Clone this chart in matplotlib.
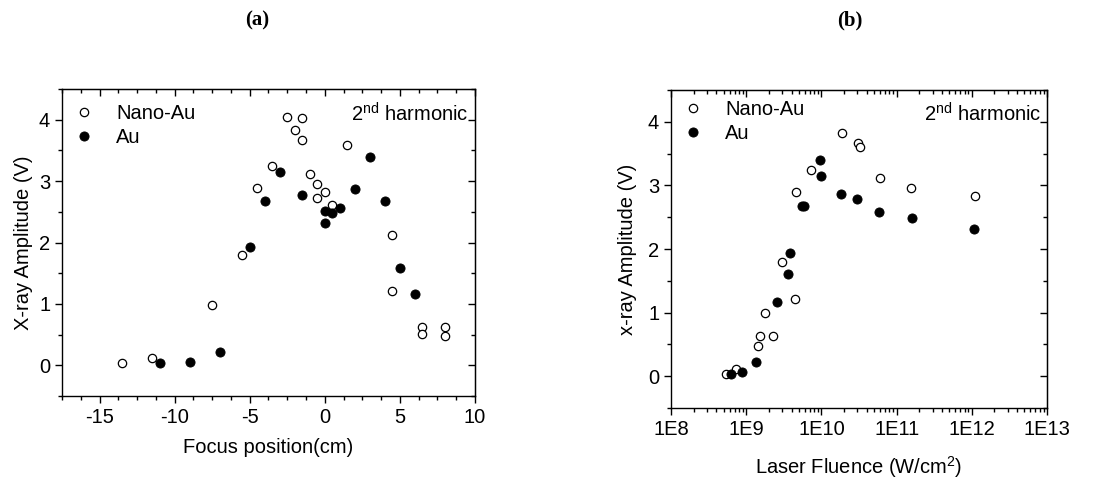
import matplotlib
matplotlib.use("Agg")
import matplotlib.pyplot as plt
from matplotlib.ticker import MultipleLocator, LogLocator, NullFormatter, FixedLocator

plt.rcParams["font.family"] = ["Liberation Sans", "DejaVu Sans"]
plt.rcParams["mathtext.fontset"] = "custom"
plt.rcParams["mathtext.rm"] = "Liberation Sans"
plt.rcParams["mathtext.it"] = "Liberation Sans"
plt.rcParams["axes.unicode_minus"] = False

# (a) focus position scan
focus_nano = [-13.5, -11.5, -7.5, -5.5, -4.5, -3.5, -2.5, -2.0, -1.5, -1.5, -1.0,
              -0.5, -0.5, 0.0, 0.5, 1.5, 4.5, 4.5, 6.5, 6.5, 8.0, 8.0]
amp_focus_nano = [0.04, 0.12, 0.99, 1.80, 2.88, 3.24, 4.05, 3.83, 4.03, 3.67, 3.11,
                  2.95, 2.72, 2.82, 2.61, 3.59, 2.13, 1.21, 0.63, 0.51, 0.63, 0.48]
focus_au = [-11.0, -9.0, -7.0, -5.0, -4.0, -3.0, -1.5, 0.0, 0.0, 0.5, 1.0,
            2.0, 3.0, 4.0, 5.0, 6.0]
amp_focus_au = [0.03, 0.06, 0.21, 1.93, 2.67, 3.15, 2.78, 2.51, 2.31, 2.48, 2.57,
                2.87, 3.40, 2.68, 1.59, 1.16]

# (b) laser fluence scan
fluence_nano = [5.3e8, 7.2e8, 1.44e9, 1.51e9, 1.76e9, 2.27e9, 3.0e9, 4.45e9, 4.65e9,
                7.35e9, 1.86e10, 3.1e10, 3.3e10, 6.0e10, 1.56e11, 1.1e12]
amp_fluence_nano = [0.04, 0.12, 0.48, 0.63, 1.00, 0.63, 1.80, 1.21, 2.89,
                    3.24, 3.83, 3.67, 3.60, 3.12, 2.96, 2.83]
fluence_au = [6.2e8, 8.9e8, 1.36e9, 2.6e9, 3.6e9, 3.87e9, 5.5e9, 5.8e9,
              9.6e9, 9.8e9, 1.84e10, 3.0e10, 5.76e10, 1.59e11, 1.08e12]
amp_fluence_au = [0.03, 0.06, 0.22, 1.16, 1.60, 1.93, 2.68, 2.68,
                  3.40, 3.15, 2.87, 2.78, 2.58, 2.48, 2.32]

fluence_ticks = [1e8, 1e9, 1e10, 1e11, 1e12, 1e13]
fluence_labels = ["1E8", "1E9", "1E10", "1E11", "1E12", "1E13"]

FS = 14.5

fig = plt.figure(figsize=(10.99, 4.78), dpi=100)
ax_a = fig.add_axes([0.0564, 0.1715, 0.3758, 0.6423])
ax_b = fig.add_axes([0.6106, 0.1464, 0.3421, 0.6653])


def scatter_pair(ax, xo, yo, xf, yf, leg_top, harm_y):
    ax.plot(xo, yo, "o", ls="none", ms=6, mfc="white", mec="black", mew=0.9,
            label="Nano-Au")
    ax.plot(xf, yf, "o", ls="none", ms=6.6, mfc="black", mec="black", mew=0.6,
            label="Au")
    ax.legend(loc="upper left", bbox_to_anchor=(0.0, leg_top), frameon=False,
              fontsize=FS, handletextpad=1.0, borderaxespad=0.3,
              labelspacing=0.25, handlelength=1.2, borderpad=0.2)
    ax.text(0.985, harm_y, "2$^{\\mathrm{nd}}$ harmonic", transform=ax.transAxes,
            ha="right", va="center", fontsize=FS)
    ax.set_ylim(-0.5, 4.5)
    ax.yaxis.set_major_locator(MultipleLocator(1))
    ax.yaxis.set_minor_locator(MultipleLocator(0.5))
    ax.tick_params(which="both", direction="out", top=False, right=False,
                   labelsize=FS, width=1.0)
    ax.tick_params(which="major", length=5)
    ax.tick_params(which="minor", length=3)
    for sp in ax.spines.values():
        sp.set_linewidth(1.0)


scatter_pair(ax_a, focus_nano, amp_focus_nano, focus_au, amp_focus_au, 0.985, 0.918)
ax_a.set_xlim(-17.5, 10)
ax_a.xaxis.set_major_locator(MultipleLocator(5))
ax_a.xaxis.set_minor_locator(MultipleLocator(1.25))
ax_a.set_xlabel("Focus position(cm)", fontsize=FS, labelpad=8)
ax_a.set_ylabel("X-ray Amplitude (V)", fontsize=FS, labelpad=4)

scatter_pair(ax_b, fluence_nano, amp_fluence_nano, fluence_au, amp_fluence_au, 1.0, 0.925)
ax_b.set_xscale("log")
ax_b.set_xlim(1e8, 1e13)
ax_b.xaxis.set_major_locator(FixedLocator(fluence_ticks))
ax_b.set_xticklabels(fluence_labels)
ax_b.xaxis.set_minor_locator(LogLocator(base=10, subs=range(2, 10), numticks=20))
ax_b.xaxis.set_minor_formatter(NullFormatter())
ax_b.set_xlabel("Laser Fluence (W/cm$^{2}$)", fontsize=FS, labelpad=11)
ax_b.set_ylabel("x-ray Amplitude (V)", fontsize=FS, labelpad=8)

fig.text(0.234, 0.958, "(a)", fontsize=15, fontweight="bold",
         family="Liberation Serif", ha="center", va="center")
fig.text(0.773, 0.958, "(b)", fontsize=15, fontweight="bold",
         family="Liberation Serif", ha="center", va="center")

# inward ticks on top and right, as in the original
for ax in (ax_a, ax_b):
    top = ax.secondary_xaxis("top")
    right = ax.secondary_yaxis("right")
    if ax is ax_b:
        top.xaxis.set_major_locator(FixedLocator(fluence_ticks))
        top.xaxis.set_minor_locator(LogLocator(base=10, subs=range(2, 10), numticks=20))
    else:
        top.xaxis.set_major_locator(MultipleLocator(5))
        top.xaxis.set_minor_locator(MultipleLocator(1.25))
    right.yaxis.set_major_locator(MultipleLocator(1))
    right.yaxis.set_minor_locator(MultipleLocator(0.5))
    for sec in (top, right):
        sec.tick_params(which="both", direction="in", labeltop=False,
                        labelright=False, width=1.0)
        sec.tick_params(which="major", length=5)
        sec.tick_params(which="minor", length=3)
    top.xaxis.set_minor_formatter(NullFormatter())
    top.xaxis.set_major_formatter(NullFormatter())
    right.yaxis.set_major_formatter(NullFormatter())

fig.savefig("out.png", dpi=100)
